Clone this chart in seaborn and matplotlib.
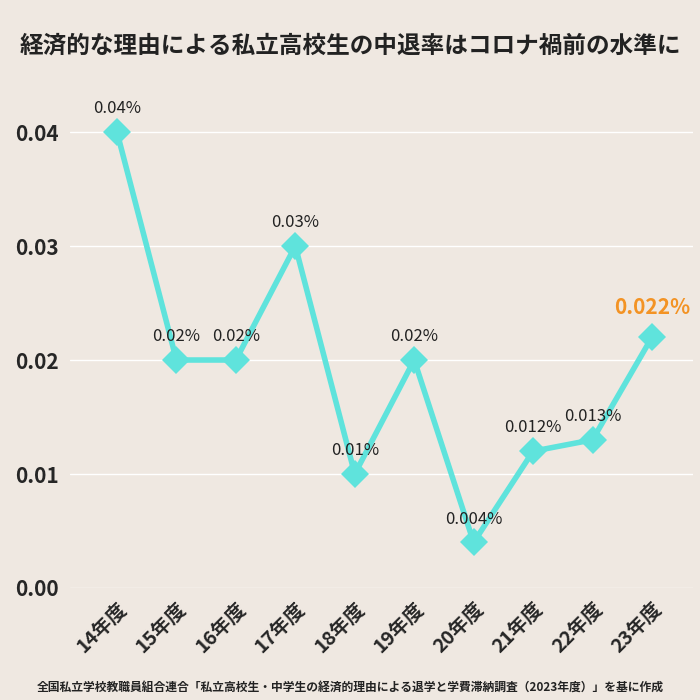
import matplotlib
matplotlib.use("Agg")
import matplotlib.pyplot as plt
import seaborn as sns
import pandas as pd

years = ["14年度","15年度","16年度","17年度","18年度","19年度","20年度","21年度","22年度","23年度"]
rates = [0.04,0.02,0.02,0.03,0.01,0.02,0.004,0.012,0.013,0.022]
labels = ["0.04%","0.02%","0.02%","0.03%","0.01%","0.02%","0.004%","0.012%","0.013%","0.022%"]
yticks = [0.00,0.01,0.02,0.03,0.04]

sns.set_theme(style="white")
plt.rcParams['font.family'] = ['Noto Sans CJK JP', 'DejaVu Sans']

fig = plt.figure(figsize=(7,7), dpi=100, facecolor='#efe8e1')
ax = fig.add_axes([0.1, 0.16, 0.89, 0.754])
ax.set_facecolor('#efe8e1')
df = pd.DataFrame({"x": range(len(years)), "y": rates})
sns.lineplot(data=df, x="x", y="y", ax=ax, color='#5fe3dc', linewidth=4,
             marker='D', markersize=14, markeredgewidth=0)
ax.set_xlim(-0.79, 9.69)
ax.set_ylim(0, 0.0463)
ax.set_yticks(yticks)
ax.set_yticklabels([f"{v:.2f}" for v in yticks], fontsize=15, fontweight='bold')
ax.set_xticks(range(len(years)))
ax.set_xticklabels(years, rotation=45, ha='right', rotation_mode='anchor', fontsize=14, fontweight='bold')
ax.tick_params(axis='y', pad=8, length=0)
ax.tick_params(axis='x', length=0, pad=8)
ax.grid(axis='y', color='white', linewidth=1)
for s in ax.spines.values():
    s.set_visible(False)
ax.set_xlabel(""); ax.set_ylabel("")
for i, (v, l) in enumerate(zip(rates, labels)):
    if i == len(rates)-1:
        ax.text(i, v+0.0017, l, ha='center', va='bottom', fontsize=15, fontweight='bold', color='#f39324')
    else:
        ax.text(i, v+0.0013, l, ha='center', va='bottom', fontsize=12, color='#222222')
fig.text(0.5, 0.935, "経済的な理由による私立高校生の中退率はコロナ禍前の水準に", ha='center', va='center',
         fontsize=17, fontweight='bold', color='#222222')
fig.text(0.5, 0.018, "全国私立学校教職員組合連合「私立高校生・中学生の経済的理由による退学と学費滞納調査（2023年度）」を基に作成",
         ha='center', va='center', fontsize=8.5, fontweight='bold', color='#222222')
fig.savefig("out.png", dpi=100, facecolor=fig.get_facecolor())
